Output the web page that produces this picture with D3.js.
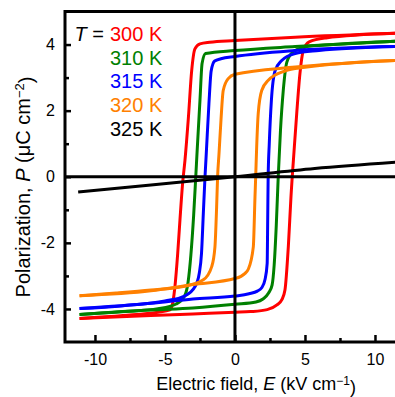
<!DOCTYPE html>
<html>
<head>
<meta charset="utf-8">
<script src="https://cdn.jsdelivr.net/npm/d3@7"></script>
<style>
  html, body { margin: 0; padding: 0; background: #fff; }
  svg { display: block; }
  text { font-family: "Liberation Sans", Arial, Helvetica, sans-serif; }
</style>
</head>
<body>
<svg id="chart" width="395" height="397"></svg>
<script>
// ---- Data ----
const temperatures = ["300 K", "310 K", "315 K", "320 K", "325 K"];
const seriesColors = ["#ff0000", "#008000", "#0000ff", "#ff8000", "#000000"];

// [E (kV/cm), P (uC/cm^2)] — descending-field branch (sorted by E)
const loop300Down = [[-11.1,-4.29],[-8,-4.2],[-5.5,-4.1],[-4.64,-4.03],[-4.41,-3.73],[-4.29,-3.33],[-4.09,-2.32],[-3.93,-1.31],[-3.74,-0.2],[-3.57,0.5],[-3.34,1.71],[-3.09,3.22],[-2.86,3.87],[-2.5,4.02],[-1.8,4.07],[0,4.12],[4.3,4.22],[11.5,4.34]];
const loop300Up = [[-11.1,-4.29],[-6,-4.2],[-3,-4.15],[0,-4.1],[1.1,-4.08],[2.3,-4.02],[3.0,-3.88],[3.35,-3.72],[3.57,-3.43],[3.81,-2.12],[4.0,-0.61],[4.24,0.9],[4.41,1.91],[4.64,3.12],[4.88,3.82],[5.3,4.08],[6.5,4.2],[11.5,4.34]];

const loop310Down = [[-11.1,-4.17],[-8,-4.08],[-5.5,-3.99],[-4.2,-3.85],[-3.6,-3.61],[-3.35,-3.19],[-3.15,-2.37],[-2.95,-1.16],[-2.8,0],[-2.7,0.8],[-2.5,2.31],[-2.35,3.43],[-2.1,3.73],[0,3.82],[4.3,3.94],[11.5,4.1]];
const loop310Up = [[-11.1,-4.17],[-6,-4.03],[-3,-3.97],[0,-3.86],[1.5,-3.79],[2.0,-3.7],[2.4,-3.52],[2.65,-3.28],[2.8,-2.67],[2.95,-1.47],[3.09,0],[3.25,1.4],[3.45,2.61],[3.7,3.46],[4.1,3.76],[5,3.93],[7,4.0],[11.5,4.1]];

const loop315Down = [[-11.1,-3.99],[-8,-3.9],[-5,-3.76],[-3.6,-3.61],[-2.86,-3.33],[-2.55,-2.92],[-2.39,-2.32],[-2.26,-1.11],[-2.14,0],[-2.05,0.7],[-1.86,2.21],[-1.7,3.2],[-1.45,3.5],[-1.0,3.57],[0,3.64],[4.3,3.82],[11.5,3.94]];
const loop315Up = [[-11.1,-3.99],[-6,-3.83],[-3,-3.7],[0,-3.61],[1.0,-3.54],[1.6,-3.46],[1.91,-3.36],[2.15,-3.1],[2.3,-2.62],[2.34,-1.2],[2.37,0],[2.45,1.0],[2.6,2.3],[2.86,3.2],[3.3,3.5],[4.3,3.73],[6,3.82],[11.5,3.94]];

const loop320Down = [[-11.1,-3.6],[-8.5,-3.52],[-6,-3.43],[-3.69,-3.32],[-2.26,-3.12],[-1.66,-2.72],[-1.43,-2.12],[-1.31,-0.91],[-1.24,0],[-1.14,0.7],[-1.0,1.71],[-0.84,2.61],[-0.48,2.97],[0,3.1],[4.3,3.32],[11.5,3.52]];
const loop320Up = [[-11.1,-3.6],[-6,-3.45],[-3,-3.26],[0,-3.08],[0.7,-2.93],[0.95,-2.8],[1.31,-2.12],[1.43,-0.61],[1.48,0],[1.55,0.9],[1.66,1.91],[1.91,2.61],[2.38,2.92],[3.57,3.2],[5,3.31],[11.5,3.52]];

const line325 = [[-11.2,-0.46],[-6,-0.25],[0,0],[5.7,0.25],[11.5,0.44]];

const xTicksMajor = [-10, -5, 0, 5, 10];
const xTicksMinor = [-7.5, -2.5, 2.5, 7.5];
const yTicksMajor = [-4, -2, 0, 2, 4];
const yTicksMinor = [-3, -1, 1, 3];

// ---- Layout ----
const svg = d3.select("#chart");
const mLeft = 65, mRight = 395, mTop = 11.5, mBottom = 342;
const x = d3.scaleLinear().domain([-12.14, 11.43]).range([mLeft, mRight]);
const y = d3.scaleLinear().domain([-5, 5]).range([mBottom, mTop]);

svg.append("defs").append("clipPath").attr("id", "clip")
  .append("rect").attr("x", mLeft).attr("y", mTop).attr("width", mRight - mLeft + 5).attr("height", mBottom - mTop);

const line = d3.line().x(d => x(d[0])).y(d => y(d[1])).curve(d3.curveMonotoneX);

const curves = svg.append("g").attr("clip-path", "url(#clip)");
const loops = [
  [loop300Down, loop300Up],
  [loop310Down, loop310Up],
  [loop315Down, loop315Up],
  [loop320Down, loop320Up],
  [line325]
];
loops.forEach((branches, i) => {
  branches.forEach(b => {
    curves.append("path").datum(b)
      .attr("d", line)
      .attr("fill", "none")
      .attr("stroke", seriesColors[i])
      .attr("stroke-width", 3)
      .attr("stroke-linejoin", "round");
  });
});

// zero lines
svg.append("line").attr("x1", x(0)).attr("x2", x(0)).attr("y1", mTop).attr("y2", mBottom)
  .attr("stroke", "#000").attr("stroke-width", 3);
svg.append("line").attr("x1", mLeft).attr("x2", mRight + 5).attr("y1", y(0)).attr("y2", y(0))
  .attr("stroke", "#000").attr("stroke-width", 3);

// axes (ticks inward)
const fmt = d => d3.format("d")(d).replace("\u2212", "-");
const xAxis = svg.append("g").attr("transform", `translate(0,${mBottom})`)
  .call(d3.axisBottom(x).tickValues(xTicksMajor).tickSize(-7).tickPadding(12).tickFormat(fmt));
const xAxisMinor = svg.append("g").attr("transform", `translate(0,${mBottom})`)
  .call(d3.axisBottom(x).tickValues(xTicksMinor).tickSize(-4).tickFormat(""));
const yAxis = svg.append("g").attr("transform", `translate(${mLeft},0)`)
  .call(d3.axisLeft(y).tickValues(yTicksMajor).tickSize(-6).tickPadding(10).tickFormat(fmt));
const yAxisMinor = svg.append("g").attr("transform", `translate(${mLeft},0)`)
  .call(d3.axisLeft(y).tickValues(yTicksMinor).tickSize(-4).tickFormat(""));

[xAxis, xAxisMinor, yAxis, yAxisMinor].forEach(g => {
  g.select(".domain").remove();
  g.selectAll(".tick line").attr("stroke", "#000").attr("stroke-width", 2.5);
  g.selectAll(".tick text").attr("fill", "#000").style("font-size", "16px")
    .style("font-family", '"Liberation Sans", Arial, sans-serif');
});

// frame (left, top, bottom)
svg.append("path")
  .attr("d", `M${mRight + 5},${mTop}H${mLeft}V${mBottom}H${mRight + 5}`)
  .attr("fill", "none").attr("stroke", "#000").attr("stroke-width", 3);

// axis titles
const xt = svg.append("text").attr("x", 256).attr("y", 390)
  .attr("text-anchor", "middle").style("font-size", "18px").attr("fill", "#000");
xt.append("tspan").text("Electric field, ");
xt.append("tspan").attr("font-style", "italic").text("E");
xt.append("tspan").text(" (kV cm");
xt.append("tspan").attr("dy", "-0.45em").style("font-size", "12px").text("\u22121");
xt.append("tspan").attr("dy", "0.45em").text(")");

const yt = svg.append("text").attr("transform", "translate(30,187) rotate(-90)")
  .attr("text-anchor", "middle").style("font-size", "20px").attr("fill", "#000");
yt.append("tspan").text("Polarization, ");
yt.append("tspan").attr("font-style", "italic").text("P");
yt.append("tspan").text(" (\u03bcC cm");
yt.append("tspan").attr("dy", "-0.45em").style("font-size", "13px").text("\u22122");
yt.append("tspan").attr("dy", "0.45em").text(")");

// legend
const legY0 = 40.7, legDY = 23.8;
const tLabel = svg.append("text").attr("x", 104).attr("y", legY0)
  .attr("text-anchor", "end").style("font-size", "20px").attr("fill", "#000");
tLabel.append("tspan").attr("font-style", "italic").text("T");
tLabel.append("tspan").text(" =");
temperatures.forEach((t, i) => {
  svg.append("text").attr("x", 110).attr("y", legY0 + i * legDY)
    .style("font-size", "20px").attr("fill", seriesColors[i]).text(t);
});
</script>
</body>
</html>
